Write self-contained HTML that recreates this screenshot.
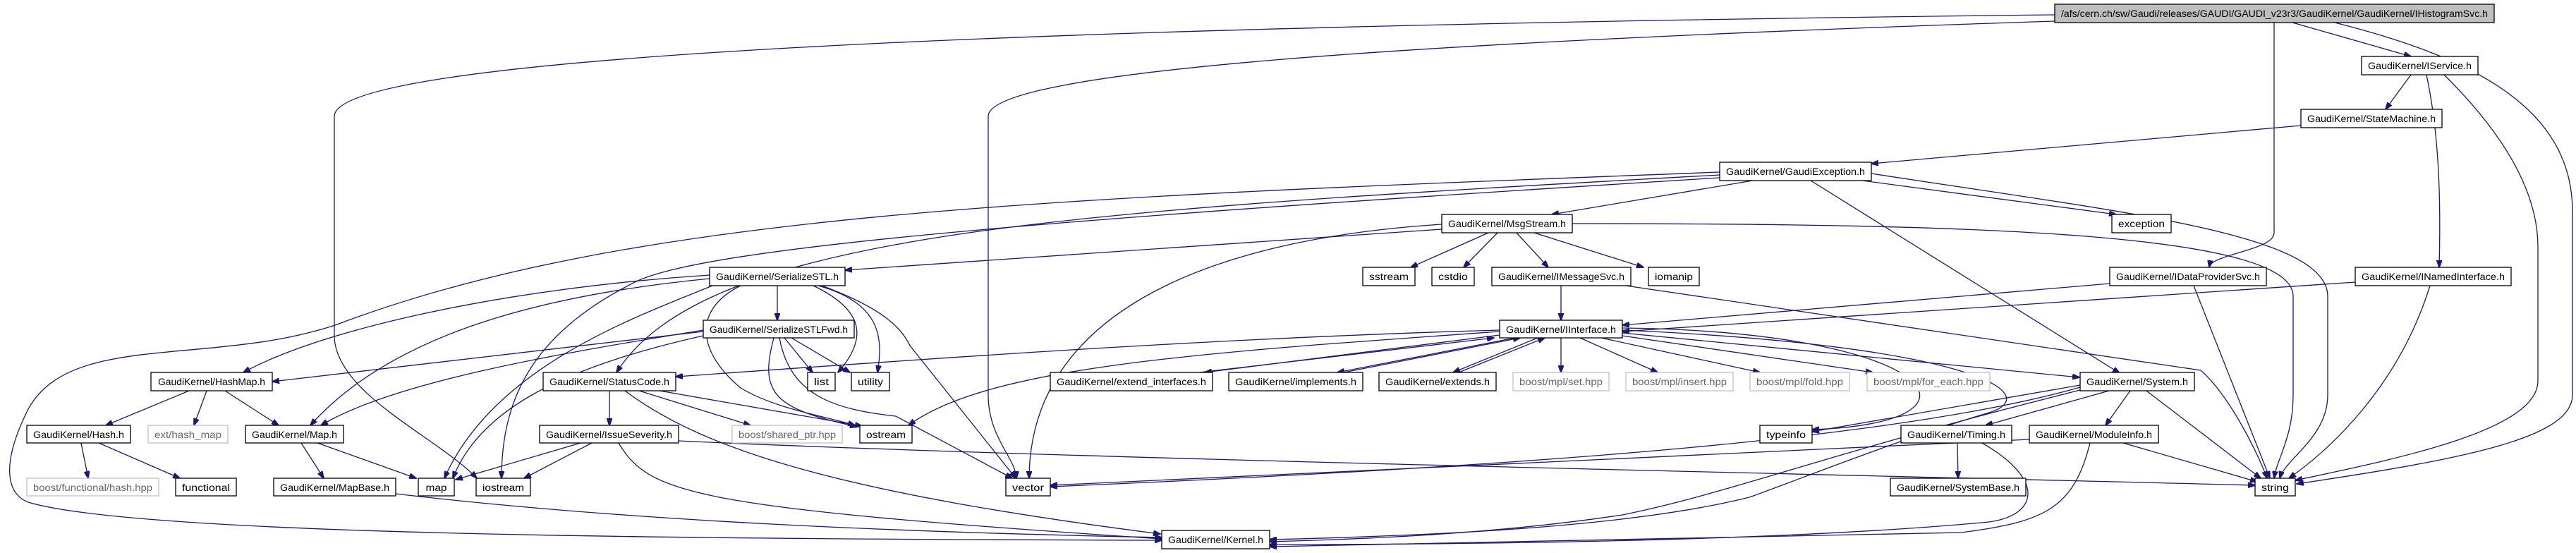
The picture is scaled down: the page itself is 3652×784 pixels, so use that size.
<!DOCTYPE html>
<html><head><meta charset="utf-8"><style>
html,body{margin:0;padding:0;background:#fff;}
svg{display:block;}
text{font-family:"Liberation Sans",sans-serif;font-size:14px;fill:#000;}
.g text{fill:#666;}
rect{fill:#fff;stroke:#000;stroke-width:1.3;}
.g rect{stroke:#bfbfbf;}
path{fill:none;stroke:#191970;stroke-width:1.3;}
</style></head><body>
<svg width="3652" height="784" viewBox="0 0 3652 784" xmlns="http://www.w3.org/2000/svg">
<defs><marker id="a" markerUnits="userSpaceOnUse" markerWidth="11" markerHeight="8" refX="10" refY="4" orient="auto"><path d="M0,0 L11,4 L0,8 z" style="fill:#191970;stroke:#191970;stroke-width:1"/></marker></defs>
<g marker-end="url(#a)">
<path d="M2913,21 C1200,40 474,90 474,165 L474,480 C480,560 620,620 676,678"/>
<path d="M2913,30 C2000,60 1401,100 1401,165 L1401,560 C1401,620 1440,650 1441,678"/>
<path d="M3250,32 L3418,80"/>
<path d="M3224,32 L3224,330 C3224,355 3135,360 3132,379"/>
<path d="M3310,32 C3500,80 3647,150 3647,300 L3647,560 C3647,620 3500,650 3256,686"/>
<path d="M3418,106 L3382,155"/>
<path d="M3440,106 C3460,200 3460,300 3458,379"/>
<path d="M3465,106 C3560,200 3598,280 3598,350 L3598,540 C3598,610 3400,650 3254,681"/>
<path d="M3262,178 L2653,232"/>
<path d="M2485,256 L2200,304"/>
<path d="M2640,256 L3000,304"/>
<path d="M2567,256 L3005,529"/>
<path d="M2653,246 C3000,300 3300,330 3300,420 L3300,560 C3300,620 3240,650 3232,678"/>
<path d="M2229,317 C2800,317 3251,330 3251,420 L3251,560 C3251,620 3228,650 3224,678"/>
<path d="M2305,405 L3120,525 C3160,560 3200,640 3214,678"/>
<path d="M2991,402 L2300,461"/>
<path d="M3110,405 L3218,678"/>
<path d="M3339,400 L2300,470"/>
<path d="M3445,405 C3400,550 3300,640 3245,678"/>
<path d="M2213,405 L2213,454"/>
<path d="M2110,330 L2000,379"/>
<path d="M2123,330 L2075,379"/>
<path d="M2150,330 L2195,379"/>
<path d="M2175,330 L2330,379"/>
<path d="M2044,325 L1198,383"/>
<path d="M2044,318 C1700,340 1460,450 1459,678"/>
<path d="M2438,244 C1500,280 900,300 478,460 C300,520 100,470 40,580 C0,660 10,700 40,712 C200,760 1000,764 1647,766"/>
<path d="M2438,248 C1500,300 1000,330 874,528"/>
<path d="M2438,252 C1500,310 1000,350 900,400 C760,470 711,560 711,678"/>
<path d="M1006,390 C700,410 450,470 345,528"/>
<path d="M1006,395 C750,420 550,480 440,603"/>
<path d="M997,468 C800,500 560,540 455,603"/>
<path d="M997,470 L386,541"/>
<path d="M1010,405 C900,450 700,520 630,678"/>
<path d="M997,476 C800,520 680,580 642,678"/>
<path d="M268,554 L150,603"/>
<path d="M293,554 L275,603"/>
<path d="M319,554 L395,603"/>
<path d="M115,628 L125,678"/>
<path d="M140,628 L255,678"/>
<path d="M427,628 L459,678"/>
<path d="M450,628 L590,678"/>
<path d="M561,700 C900,740 1300,755 1647,762"/>
<path d="M864,554 L864,603"/>
<path d="M906,554 L1064,603"/>
<path d="M935,554 L1222,604"/>
<path d="M886,554 C1000,640 1200,700 1645,757"/>
<path d="M877,628 C920,700 980,720 1647,764"/>
<path d="M823,628 L646,680"/>
<path d="M839,628 L743,678"/>
<path d="M962,625 C1500,650 2500,670 3197,688"/>
<path d="M1102,405 L1102,454"/>
<path d="M1153,405 C1226,440 1230,480 1188,528"/>
<path d="M1160,405 C1250,430 1252,480 1244,528"/>
<path d="M1165,405 C1260,440 1280,470 1290,490 L1440,678"/>
<path d="M1050,405 C980,440 990,500 1050,550 C1100,580 1170,590 1212,603"/>
<path d="M1112,479 L1152,528"/>
<path d="M1122,479 L1205,528"/>
<path d="M1097,479 C1075,560 1100,580 1215,605"/>
<path d="M1105,479 C1120,560 1180,580 1270,590 L1435,678"/>
<path d="M2213,479 L2213,528"/>
<path d="M2240,479 L2350,528"/>
<path d="M2270,479 L2495,528"/>
<path d="M2300,476 L2655,528"/>
<path d="M2300,472 L2948,535"/>
<path d="M2300,465 C2750,470 2840,600 2569,609"/>
<path d="M2126,470 C1700,500 1400,520 1288,603"/>
<path d="M2300,468 C2800,490 2900,560 2820,585 C2700,620 2550,680 2480,705 C2300,750 2000,760 1800,765"/>
<path d="M2126,468 C1700,480 1300,510 958,534"/>
<path d="M1700,528 L2118,479"/>
<path d="M2126,475 L1708,528"/>
<path d="M1905,528 L2155,479"/>
<path d="M2148,479 L1896,528"/>
<path d="M2068,528 L2190,479"/>
<path d="M2180,479 L2060,528"/>
<path d="M3020,554 L2985,603"/>
<path d="M2990,554 L2815,603"/>
<path d="M3043,554 L3205,678"/>
<path d="M2949,546 L2569,612"/>
<path d="M2949,549 C2700,620 2200,660 1489,690"/>
<path d="M2949,553 C2600,640 2450,700 2300,730 C2100,760 1900,765 1800,768"/>
<path d="M2775,628 L2776,678"/>
<path d="M2810,628 C2900,680 2890,730 2820,740 C2500,770 2000,772 1800,772"/>
<path d="M3010,628 L3200,683"/>
<path d="M2877,623 L1489,688"/>
<path d="M2963,628 C2940,720 2900,740 2780,755 L1800,775"/>
</g>
<g>
<rect x="2913" y="6" width="623" height="26" style="fill:#bfbfbf"/><text x="3224.5" y="24" text-anchor="middle" textLength="605" lengthAdjust="spacingAndGlyphs">/afs/cern.ch/sw/Gaudi/releases/GAUDI/GAUDI_v23r3/GaudiKernel/GaudiKernel/IHistogramSvc.h</text>
<rect x="3348" y="80" width="165" height="26"/><text x="3430.5" y="98" text-anchor="middle" textLength="147" lengthAdjust="spacingAndGlyphs">GaudiKernel/IService.h</text>
<rect x="3262" y="155" width="200" height="26"/><text x="3362" y="173" text-anchor="middle" textLength="182" lengthAdjust="spacingAndGlyphs">GaudiKernel/StateMachine.h</text>
<rect x="2438" y="230" width="215" height="26"/><text x="2545.5" y="248" text-anchor="middle" textLength="197" lengthAdjust="spacingAndGlyphs">GaudiKernel/GaudiException.h</text>
<rect x="2044" y="304" width="185" height="26"/><text x="2136.5" y="322" text-anchor="middle" textLength="167" lengthAdjust="spacingAndGlyphs">GaudiKernel/MsgStream.h</text>
<rect x="2994" y="304" width="84" height="26"/><text x="3036" y="322" text-anchor="middle" textLength="66" lengthAdjust="spacingAndGlyphs">exception</text>
<rect x="1006" y="379" width="192" height="26"/><text x="1102" y="397" text-anchor="middle" textLength="174" lengthAdjust="spacingAndGlyphs">GaudiKernel/SerializeSTL.h</text>
<rect x="1932" y="379" width="74" height="26"/><text x="1969" y="397" text-anchor="middle" textLength="56" lengthAdjust="spacingAndGlyphs">sstream</text>
<rect x="2030" y="379" width="60" height="26"/><text x="2060" y="397" text-anchor="middle" textLength="42" lengthAdjust="spacingAndGlyphs">cstdio</text>
<rect x="2115" y="379" width="197" height="26"/><text x="2213.5" y="397" text-anchor="middle" textLength="179" lengthAdjust="spacingAndGlyphs">GaudiKernel/IMessageSvc.h</text>
<rect x="2337" y="379" width="72" height="26"/><text x="2373" y="397" text-anchor="middle" textLength="54" lengthAdjust="spacingAndGlyphs">iomanip</text>
<rect x="2991" y="379" width="222" height="26"/><text x="3102" y="397" text-anchor="middle" textLength="204" lengthAdjust="spacingAndGlyphs">GaudiKernel/IDataProviderSvc.h</text>
<rect x="3339" y="379" width="221" height="26"/><text x="3449.5" y="397" text-anchor="middle" textLength="203" lengthAdjust="spacingAndGlyphs">GaudiKernel/INamedInterface.h</text>
<rect x="997" y="454" width="214" height="25"/><text x="1104" y="472" text-anchor="middle" textLength="196" lengthAdjust="spacingAndGlyphs">GaudiKernel/SerializeSTLFwd.h</text>
<rect x="2126" y="454" width="174" height="25"/><text x="2213" y="472" text-anchor="middle" textLength="156" lengthAdjust="spacingAndGlyphs">GaudiKernel/IInterface.h</text>
<rect x="214" y="528" width="172" height="26"/><text x="300" y="546" text-anchor="middle" textLength="152" lengthAdjust="spacingAndGlyphs">GaudiKernel/HashMap.h</text>
<rect x="770" y="528" width="188" height="26"/><text x="864" y="546" text-anchor="middle" textLength="170" lengthAdjust="spacingAndGlyphs">GaudiKernel/StatusCode.h</text>
<rect x="1145" y="528" width="39" height="26"/><text x="1164.5" y="546" text-anchor="middle" textLength="21" lengthAdjust="spacingAndGlyphs">list</text>
<rect x="1207" y="528" width="54" height="26"/><text x="1234" y="546" text-anchor="middle" textLength="36" lengthAdjust="spacingAndGlyphs">utility</text>
<rect x="1489" y="528" width="230" height="26"/><text x="1604" y="546" text-anchor="middle" textLength="212" lengthAdjust="spacingAndGlyphs">GaudiKernel/extend_interfaces.h</text>
<rect x="1742" y="528" width="190" height="26"/><text x="1837" y="546" text-anchor="middle" textLength="172" lengthAdjust="spacingAndGlyphs">GaudiKernel/implements.h</text>
<rect x="1955" y="528" width="166" height="26"/><text x="2038" y="546" text-anchor="middle" textLength="148" lengthAdjust="spacingAndGlyphs">GaudiKernel/extends.h</text>
<g class="g">
<rect x="2145" y="528" width="136" height="26"/><text x="2213" y="546" text-anchor="middle" textLength="118" lengthAdjust="spacingAndGlyphs">boost/mpl/set.hpp</text>
<rect x="2305" y="528" width="152" height="26"/><text x="2381" y="546" text-anchor="middle" textLength="134" lengthAdjust="spacingAndGlyphs">boost/mpl/insert.hpp</text>
<rect x="2481" y="528" width="141" height="26"/><text x="2551.5" y="546" text-anchor="middle" textLength="123" lengthAdjust="spacingAndGlyphs">boost/mpl/fold.hpp</text>
<rect x="2647" y="528" width="174" height="26"/><text x="2734" y="546" text-anchor="middle" textLength="156" lengthAdjust="spacingAndGlyphs">boost/mpl/for_each.hpp</text>
<rect x="210" y="603" width="113" height="25"/><text x="266.5" y="621" text-anchor="middle" textLength="95" lengthAdjust="spacingAndGlyphs">ext/hash_map</text>
<rect x="1038" y="603" width="156" height="25"/><text x="1116" y="621" text-anchor="middle" textLength="138" lengthAdjust="spacingAndGlyphs">boost/shared_ptr.hpp</text>
<rect x="38" y="678" width="187" height="25"/><text x="131.5" y="696" text-anchor="middle" textLength="169" lengthAdjust="spacingAndGlyphs">boost/functional/hash.hpp</text>
</g>
<rect x="2949" y="528" width="162" height="26"/><text x="3030" y="546" text-anchor="middle" textLength="144" lengthAdjust="spacingAndGlyphs">GaudiKernel/System.h</text>
<rect x="38" y="603" width="147" height="25"/><text x="111.5" y="621" text-anchor="middle" textLength="129" lengthAdjust="spacingAndGlyphs">GaudiKernel/Hash.h</text>
<rect x="348" y="603" width="139" height="25"/><text x="417.5" y="621" text-anchor="middle" textLength="121" lengthAdjust="spacingAndGlyphs">GaudiKernel/Map.h</text>
<rect x="765" y="603" width="197" height="25"/><text x="863.5" y="621" text-anchor="middle" textLength="179" lengthAdjust="spacingAndGlyphs">GaudiKernel/IssueSeverity.h</text>
<rect x="1219" y="603" width="74" height="25"/><text x="1256" y="621" text-anchor="middle" textLength="56" lengthAdjust="spacingAndGlyphs">ostream</text>
<rect x="2495" y="603" width="74" height="25"/><text x="2532" y="621" text-anchor="middle" textLength="56" lengthAdjust="spacingAndGlyphs">typeinfo</text>
<rect x="2695" y="603" width="157" height="25"/><text x="2773.5" y="621" text-anchor="middle" textLength="139" lengthAdjust="spacingAndGlyphs">GaudiKernel/Timing.h</text>
<rect x="2877" y="603" width="183" height="25"/><text x="2968.5" y="621" text-anchor="middle" textLength="165" lengthAdjust="spacingAndGlyphs">GaudiKernel/ModuleInfo.h</text>
<rect x="249" y="678" width="86" height="25"/><text x="292" y="696" text-anchor="middle" textLength="68" lengthAdjust="spacingAndGlyphs">functional</text>
<rect x="388" y="678" width="173" height="25"/><text x="474.5" y="696" text-anchor="middle" textLength="155" lengthAdjust="spacingAndGlyphs">GaudiKernel/MapBase.h</text>
<rect x="593" y="678" width="51" height="25"/><text x="618.5" y="696" text-anchor="middle" textLength="30" lengthAdjust="spacingAndGlyphs">map</text>
<rect x="675" y="678" width="77" height="25"/><text x="713.5" y="696" text-anchor="middle" textLength="59" lengthAdjust="spacingAndGlyphs">iostream</text>
<rect x="1426" y="678" width="63" height="25"/><text x="1457.5" y="696" text-anchor="middle" textLength="45" lengthAdjust="spacingAndGlyphs">vector</text>
<rect x="2680" y="678" width="192" height="25"/><text x="2776" y="696" text-anchor="middle" textLength="174" lengthAdjust="spacingAndGlyphs">GaudiKernel/SystemBase.h</text>
<rect x="3197" y="678" width="57" height="25"/><text x="3225.5" y="696" text-anchor="middle" textLength="39" lengthAdjust="spacingAndGlyphs">string</text>
<rect x="1647" y="752" width="153" height="26"/><text x="1723.5" y="770" text-anchor="middle" textLength="135" lengthAdjust="spacingAndGlyphs">GaudiKernel/Kernel.h</text>
</g>
</svg>
</body></html>
